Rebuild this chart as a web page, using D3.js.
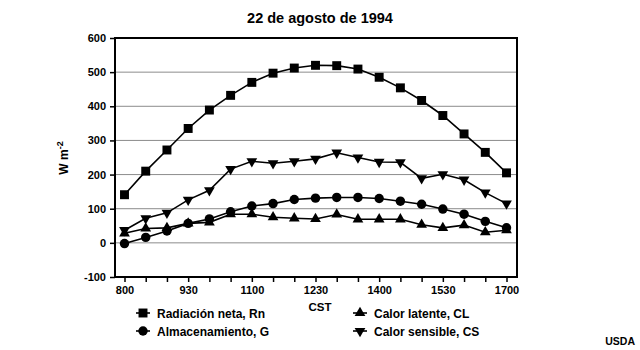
<!DOCTYPE html>
<html>
<head>
<meta charset="utf-8">
<script src="https://cdn.jsdelivr.net/npm/d3@7"></script>
<style>
  html, body { margin: 0; padding: 0; background: #fff; }
  svg { display: block; font-family: "Liberation Sans", Arial, sans-serif; }
</style>
</head>
<body>
<svg id="chart" width="640" height="350"></svg>
<script>
const times = ["800","830","900","930","1000","1030","1100","1130","1200","1230","1300","1330","1400","1430","1500","1530","1600","1630","1700"];
const tickLabels = ["800","930","1100","1230","1400","1530","1700"];
const yTicks = [-100, 0, 100, 200, 300, 400, 500, 600];
const gridValues = [0, 100, 200, 300, 400, 500];

const radiacionNeta = [141, 210, 272, 335, 389, 432, 470, 497, 512, 520, 519, 509, 485, 454, 417, 373, 319, 265, 205];
const almacenamiento = [-2, 16, 35, 57, 70, 91, 108, 115, 127, 131, 133, 133, 130, 122, 113, 99, 84, 63, 44];
const calorLatente = [28, 42, 44, 57, 60, 84, 84, 75, 72, 70, 83, 69, 69, 69, 53, 44, 52, 31, 37];
const calorSensible = [37, 72, 88, 126, 154, 216, 239, 233, 239, 246, 264, 250, 237, 236, 189, 201, 185, 147, 115];

const seriesNames = ["Radiación neta, Rn", "Almacenamiento, G", "Calor latente, CL", "Calor sensible, CS"];

const series = [
  { name: seriesNames[0], values: radiacionNeta, symbol: d3.symbolSquare, size: 80, rot: 0 },
  { name: seriesNames[1], values: almacenamiento, symbol: d3.symbolCircle, size: 70, rot: 0 },
  { name: seriesNames[2], values: calorLatente, symbol: d3.symbolTriangle, size: 50, rot: 0 },
  { name: seriesNames[3], values: calorSensible, symbol: d3.symbolTriangle, size: 50, rot: 180 }
];

const svg = d3.select("#chart");
const mLeft = 115, mRight = 517, mTop = 38, mBottom = 277;

const x = d3.scalePoint().domain(times).range([124.5, 506.5]);
const y = d3.scaleLinear().domain([-100, 600]).range([mBottom, mTop]);

// title
svg.append("text")
  .attr("x", 320).attr("y", 23)
  .attr("text-anchor", "middle")
  .attr("font-size", 14.5).attr("font-weight", "bold")
  .text("22 de agosto de 1994");

// gridlines
svg.append("g").selectAll("line").data(gridValues).join("line")
  .attr("x1", mLeft).attr("x2", mRight)
  .attr("y1", d => y(d)).attr("y2", d => y(d))
  .attr("stroke", "#8c8c8c").attr("stroke-width", 1);

// y axis
const yAxis = d3.axisLeft(y).tickValues(yTicks).tickSize(5).tickPadding(4)
  .tickFormat(d => String(d));
const gy = svg.append("g").attr("transform", `translate(${mLeft},0)`).call(yAxis);
gy.select(".domain").remove();
gy.selectAll(".tick line").attr("stroke", "#000").attr("stroke-width", 1.5);
gy.selectAll(".tick text").attr("font-size", 11).attr("font-weight", "bold")
  .attr("font-family", "Liberation Sans, Arial, sans-serif").attr("fill", "#000");

// x axis
const xAxis = d3.axisBottom(x).tickSize(5).tickPadding(4)
  .tickFormat(d => tickLabels.includes(d) ? d : "");
const gx = svg.append("g").attr("transform", `translate(0,${mBottom})`).call(xAxis);
gx.select(".domain").remove();
gx.selectAll(".tick line").attr("stroke", "#000").attr("stroke-width", 1.5);
gx.selectAll(".tick text").attr("font-size", 11).attr("font-weight", "bold")
  .attr("font-family", "Liberation Sans, Arial, sans-serif").attr("fill", "#000");

// frame
svg.append("rect")
  .attr("x", mLeft).attr("y", mTop)
  .attr("width", mRight - mLeft).attr("height", mBottom - mTop)
  .attr("fill", "none").attr("stroke", "#000").attr("stroke-width", 2);

// axis titles
svg.append("text")
  .attr("x", 320).attr("y", 311)
  .attr("text-anchor", "middle")
  .attr("font-size", 11.5).attr("font-weight", "bold")
  .text("CST");

const yt = svg.append("text")
  .attr("transform", "translate(68,158) rotate(-90)")
  .attr("text-anchor", "middle")
  .attr("font-size", 12).attr("font-weight", "bold");
yt.append("tspan").text("W m");
yt.append("tspan").attr("dy", -5).attr("font-size", 9).text("-2");

// lines and markers
const line = d3.line().x((d, i) => x(times[i])).y(d => y(d));
series.forEach(s => {
  svg.append("path").datum(s.values)
    .attr("d", line)
    .attr("fill", "none").attr("stroke", "#000").attr("stroke-width", 1.6);
  svg.append("g").selectAll("path").data(s.values).join("path")
    .attr("d", d3.symbol().type(s.symbol).size(s.size))
    .attr("transform", (d, i) => `translate(${x(times[i])},${y(d)}) rotate(${s.rot})`)
    .attr("fill", "#000");
});

// legend
const legendPos = [
  { lx: 143, ty: 313 },
  { lx: 143, ty: 331 },
  { lx: 360, ty: 313 },
  { lx: 360, ty: 331 }
];
series.forEach((s, i) => {
  const p = legendPos[i];
  const g = svg.append("g");
  g.append("line").attr("x1", p.lx - 7).attr("x2", p.lx + 7)
    .attr("y1", p.ty).attr("y2", p.ty).attr("stroke", "#000").attr("stroke-width", 1.6);
  g.append("path").attr("d", d3.symbol().type(s.symbol).size(s.size))
    .attr("transform", `translate(${p.lx},${p.ty}) rotate(${s.rot})`).attr("fill", "#000");
  g.append("text").attr("x", p.lx + 14).attr("y", p.ty + 4.5)
    .attr("font-size", 12).attr("font-weight", "bold").text(s.name);
});

// source
svg.append("text")
  .attr("x", 635).attr("y", 345)
  .attr("text-anchor", "end")
  .attr("font-size", 10.5).attr("font-weight", "bold")
  .text("USDA");
</script>
</body>
</html>
